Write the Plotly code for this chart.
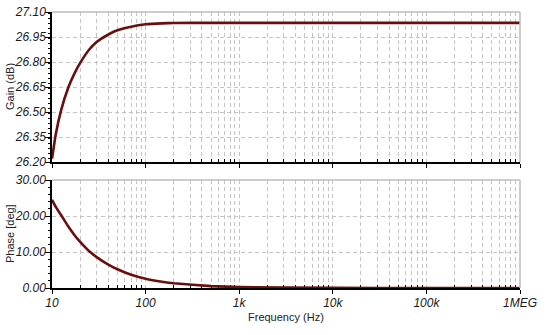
import plotly.graph_objects as go
from plotly.subplots import make_subplots

# ---- data ----
freq_hz = [10, 11, 12.5, 15, 17.5, 20, 25, 30, 40, 50, 70, 100, 150, 200, 500,
           1000, 10000, 100000, 1000000]
gain_db = [26.22, 26.37, 26.51, 26.65, 26.735, 26.795, 26.875, 26.92, 26.965, 26.99,
           27.012, 27.026, 27.032, 27.034, 27.035, 27.035, 27.035, 27.035, 27.035]
phase_deg = [24.5, 22.5, 20.3, 17.0, 14.6, 12.8, 10.2, 8.6, 6.5, 5.2, 3.7, 2.6,
             1.75, 1.3, 0.52, 0.26, 0.03, 0.0, 0.0]

x_tick_vals = [10, 100, 1000, 10000, 100000, 1000000]
x_tick_text = ["10", "100", "1k", "10k", "100k", "1MEG"]
gain_ticks = [26.20, 26.35, 26.50, 26.65, 26.80, 26.95, 27.10]
phase_ticks = [0, 10, 20, 30]

minor_x = [m * 10 ** e for e in range(1, 6) for m in range(2, 10)]

LINE = "#6a0f0f"
GRID = "#c4c4c4"
DASH = "4px,3px"
FONT = "Liberation Sans"

fig = make_subplots(rows=2, cols=1, shared_xaxes=False)

fig.add_trace(go.Scatter(x=freq_hz, y=gain_db, mode="lines",
                         line=dict(color=LINE, width=2.6, shape="spline", smoothing=0.4),
                         showlegend=False, hoverinfo="skip"), row=1, col=1)
fig.add_trace(go.Scatter(x=freq_hz, y=phase_deg, mode="lines",
                         line=dict(color=LINE, width=2.6, shape="spline", smoothing=0.4),
                         showlegend=False, hoverinfo="skip", cliponaxis=False), row=2, col=1)

tickfont = dict(family=FONT, size=12, color="#1a1a1a", style="italic")
titlefont = dict(family=FONT, size=11, color="#222222")

xcommon = dict(type="log", range=[1, 6], tickvals=x_tick_vals, ticktext=x_tick_text,
               showline=True, linecolor="black", linewidth=1.5,
               ticks="outside", ticklen=4, tickcolor="black",
               showgrid=True, gridcolor=GRID, griddash=DASH, gridwidth=1,
               zeroline=False, layer="below traces", automargin=False,
               minor=dict(tickvals=minor_x, showgrid=True, gridcolor=GRID,
                          griddash=DASH, gridwidth=1, ticks="inside",
                          ticklen=3, tickcolor="black"))

fig.update_xaxes(**xcommon, showticklabels=False, row=1, col=1)
fig.update_xaxes(**xcommon, showticklabels=True, tickfont=tickfont,
                 ticklabelstandoff=-1, row=2, col=1)

ycommon = dict(showline=True, linecolor="black", linewidth=1.5,
               ticks="outside", ticklen=5, tickcolor="black",
               showgrid=True, gridcolor=GRID, griddash=DASH, gridwidth=1,
               zeroline=False, tickfont=tickfont, tickformat=".2f",
               ticklabelstandoff=-3, layer="below traces", automargin=False)

fig.update_yaxes(**ycommon, range=[26.20, 27.10], tickvals=gain_ticks,
                 minor=dict(dtick=0.03, ticks="outside", ticklen=2,
                            tickcolor="black", showgrid=False),
                 domain=[0.4565, 1.0], row=1, col=1)
fig.update_yaxes(**ycommon, range=[0, 30], tickvals=phase_ticks,
                 minor=dict(dtick=2, ticks="outside", ticklen=2,
                            tickcolor="black", showgrid=False),
                 domain=[0.0, 0.391], row=2, col=1)

# gray top and right frame edges of each panel
for xr, yr in (("x domain", "y domain"), ("x2 domain", "y2 domain")):
    fig.add_shape(type="line", xref=xr, yref=yr, x0=0, x1=1, y0=1, y1=1,
                  line=dict(color="#bdbdbd", width=1.5))
    fig.add_shape(type="line", xref=xr, yref=yr, x0=1, x1=1, y0=0, y1=1,
                  line=dict(color="#bdbdbd", width=1.5))

# axis titles
fig.add_annotation(text="Gain (dB)", xref="paper", yref="y domain", x=-42 / 468,
                   y=0.5, xanchor="center", yanchor="middle", textangle=-90,
                   showarrow=False, font=titlefont)
fig.add_annotation(text="Phase [deg]", xref="paper", yref="y2 domain", x=-42 / 468,
                   y=0.5, xanchor="center", yanchor="middle", textangle=-90,
                   showarrow=False, font=titlefont)
fig.add_annotation(text="Frequency (Hz)", xref="paper", yref="paper", x=0.5,
                   y=-29 / 276, xanchor="center", yanchor="middle",
                   showarrow=False, font=titlefont)

fig.update_layout(width=546, height=335,
                  margin=dict(l=52, r=26, t=12, b=47),
                  paper_bgcolor="white", plot_bgcolor="white",
                  font=dict(family=FONT))

# remove the default 8px page margin so the figure fills the window exactly
fig.write_html("out.html", config={"displayModeBar": False},
               post_script="document.body.style.margin='0px';")
